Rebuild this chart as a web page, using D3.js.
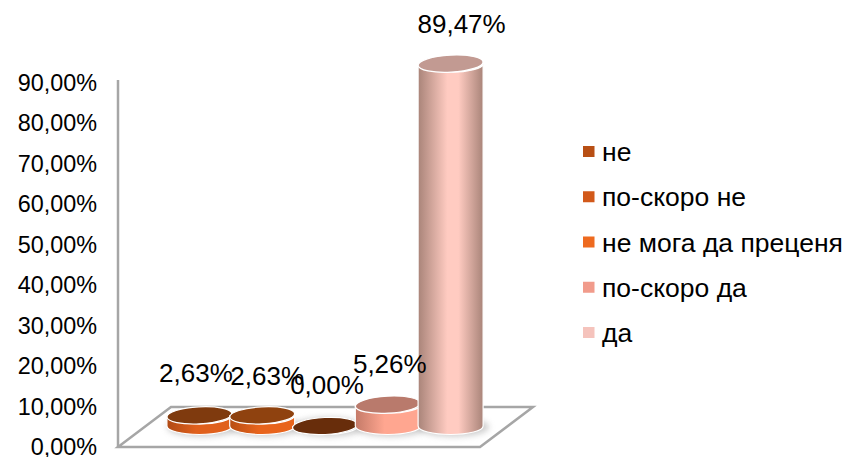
<!DOCTYPE html>
<html>
<head>
<meta charset="utf-8">
<script src="https://cdn.jsdelivr.net/npm/d3@7"></script>
<style>
  html, body { margin: 0; padding: 0; background: #fff; }
  text { font-family: "Liberation Sans", Arial, sans-serif; fill: #000; }
</style>
</head>
<body>
<div id="chart"></div>
<script>
var categories = ['не', 'по-скоро не', 'не мога да преценя', 'по-скоро да', 'да'];
var values = [2.63, 2.63, 0, 5.26, 89.47];
var yTicks = [0, 10, 20, 30, 40, 50, 60, 70, 80, 90];

// colours per category: legend, top of the cylinder, then side edge / side middle
var legendColors = ['#b84f14', '#d2591a', '#ee6a1f', '#f19b8b', '#f5c3bc'];
var topColors = ['#7f3a0e', '#8f420f', '#682d0b', '#b97a6c', '#c29a92'];
var edgeColors = ['#b04a14', '#b84e14', '#682d0b', '#c47a68', '#a98479'];
var midColors = ['#e0601c', '#e8641c', '#682d0b', '#ffa690', '#ffcbc1'];

var width = 848, height = 457;
var depth = 21;   // the floor is drawn in fake 3d, cylinders stand mid floor
var rx = 32.5, ry = 8.5;
var tilt = -3;    // the tops lean up to the right in the original

var svg = d3.select('#chart').append('svg')
  .attr('width', width)
  .attr('height', height);

var defs = svg.append('defs');

defs.append('filter').attr('id', 'soft')
  .attr('x', '-20%').attr('width', '140%')
  .attr('y', '-50%').attr('height', '200%')
  .append('feGaussianBlur').attr('stdDeviation', 3);

categories.forEach(function(c, i) {
  var g = defs.append('linearGradient').attr('id', 'side' + i);
  g.append('stop').attr('offset', '0%').attr('stop-color', edgeColors[i]);
  g.append('stop').attr('offset', '45%').attr('stop-color', midColors[i]);
  g.append('stop').attr('offset', '62%').attr('stop-color', midColors[i]);
  // only the tall one gets dark again on the right
  g.append('stop').attr('offset', '100%')
    .attr('stop-color', i === 4 ? edgeColors[i] : midColors[i]);
});

var y = d3.scaleLinear().domain([0, 90]).range([447, 82.5]);
var x = d3.scaleBand().domain(categories).range([168, 482]).padding(0);

// floor
var floorLeft = 118, floorRight = 480, skew = 53, floorBack = 407;
svg.append('path')
  .attr('d', d3.line()([[floorLeft, y(0)], [floorRight, y(0)], [floorRight + skew, floorBack], [floorLeft + skew, floorBack]]) + 'Z')
  .attr('fill', '#fff')
  .attr('stroke', '#a6a6a6')
  .attr('stroke-width', 2.5);

// y axis, labels sit left of the wall line
var axis = d3.axisLeft(y)
  .tickValues(yTicks)
  .tickSize(0)
  .tickPadding(21)
  .tickFormat(function(d) { return d3.format('.2f')(d).replace('.', ',') + '%'; });

var axisG = svg.append('g')
  .attr('transform', 'translate(' + floorLeft + ',0)')
  .call(axis);
axisG.select('.domain').remove();
axisG.selectAll('text')
  .style('font-family', '"Liberation Sans", Arial, sans-serif')
  .style('font-size', '23.4px')
  .attr('fill', '#000');

svg.append('line')
  .attr('x1', floorLeft).attr('x2', floorLeft)
  .attr('y1', 80).attr('y2', y(0))
  .attr('stroke', '#a6a6a6')
  .attr('stroke-width', 2.5);

// shadows first so that no cylinder is covered by its neighbour's
svg.selectAll('ellipse.shadow')
  .data(values)
  .enter().append('ellipse')
  .attr('class', 'shadow')
  .attr('cx', function(d, i) { return x(categories[i]) + x.bandwidth() / 2 + 3; })
  .attr('cy', y(0) - depth + 1)
  .attr('rx', rx + 3)
  .attr('ry', ry + 1)
  .attr('fill', '#999')
  .attr('opacity', 0.5)
  .attr('filter', 'url(#soft)');

var bars = svg.selectAll('g.bar')
  .data(values)
  .enter().append('g')
  .attr('class', 'bar')
  .attr('transform', function(d, i) {
    return 'translate(' + (x(categories[i]) + x.bandwidth() / 2) + ',0)';
  });

bars.append('path')
  .attr('d', function(d) {
    var top = y(d) - depth, base = y(0) - depth;
    return 'M' + (-rx) + ',' + top +
      'L' + (-rx) + ',' + base +
      'A' + rx + ',' + ry + ' 0 0 0 ' + rx + ',' + base +
      'L' + rx + ',' + top +
      'A' + rx + ',' + ry + ' 0 0 1 ' + (-rx) + ',' + top + 'Z';
  })
  .attr('fill', function(d, i) { return 'url(#side' + i + ')'; })
  .attr('stroke', '#fff')
  .attr('stroke-width', 1.2);

bars.append('ellipse')
  .attr('rx', rx)
  .attr('ry', ry)
  .attr('transform', function(d) { return 'translate(0,' + (y(d) - depth) + ') rotate(' + tilt + ')'; })
  .attr('fill', function(d, i) { return topColors[i]; })
  .attr('stroke', '#fff')
  .attr('stroke-width', 1.2);

// data labels, the hand-placed offsets from the original
var labelNudgeX = [-3.5, 5, 2, 2, 11];
var labelNudgeY = [-1, 2, 0, 0, 1];
svg.selectAll('text.value')
  .data(values)
  .enter().append('text')
  .attr('class', 'value')
  .attr('x', function(d, i) { return x(categories[i]) + x.bandwidth() / 2 + labelNudgeX[i]; })
  .attr('y', function(d, i) { return y(d) - depth - 32 + labelNudgeY[i]; })
  .attr('text-anchor', 'middle')
  .style('font-size', '26px')
  .text(function(d) { return d3.format('.2f')(d).replace('.', ',') + '%'; });

// legend
var legendY = d3.scalePoint().domain(categories).range([151.5, 332.5]);
var legend = svg.selectAll('g.legend')
  .data(categories)
  .enter().append('g')
  .attr('class', 'legend')
  .attr('transform', function(d) { return 'translate(583,' + legendY(d) + ')'; });

legend.append('rect')
  .attr('y', -5.5)
  .attr('width', 11.5)
  .attr('height', 11)
  .attr('fill', function(d, i) { return legendColors[i]; });

legend.append('text')
  .attr('x', 19)
  .attr('y', 9.5)
  .style('font-size', '26.5px')
  .text(function(d) { return d; });
</script>
</body>
</html>
